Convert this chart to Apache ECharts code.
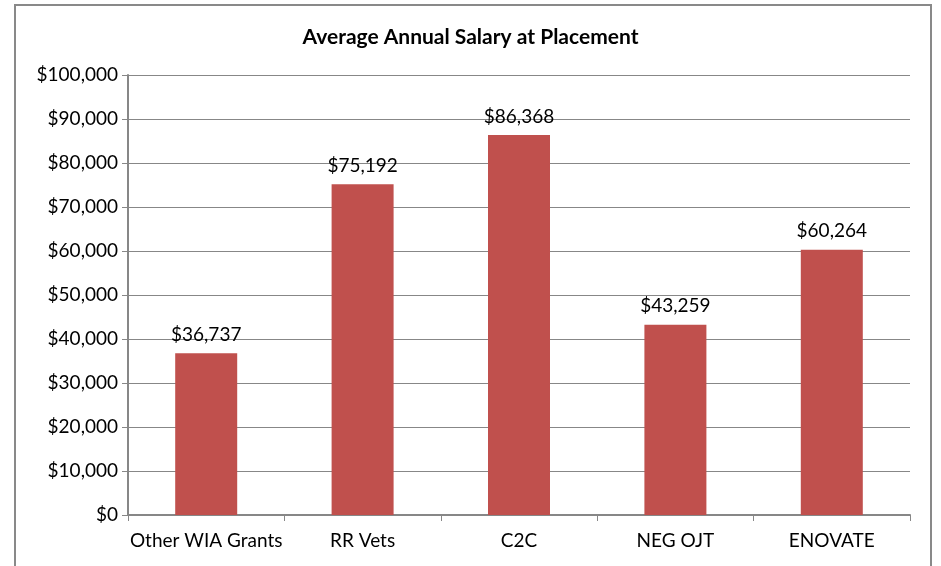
<!DOCTYPE html>
<html>
<head>
<meta charset="utf-8">
<script src="https://cdn.jsdelivr.net/npm/echarts@6/dist/echarts.min.js"></script>
<style>
  html, body { margin: 0; padding: 0; background: #fff; }
  #frame { position: absolute; left: 14px; top: 4px; width: 918px; height: 580px; border: 2px solid #898989; box-sizing: border-box; }
  #chart { width: 941px; height: 566px; }
</style>
</head>
<body>
<div id="frame"></div>
<div id="chart"></div>
<script>
const categories = ['Other WIA Grants', 'RR Vets', 'C2C', 'NEG OJT', 'ENOVATE']
const salaries = [36737, 75192, 86368, 43259, 60264]
const yTicks = { min: 0, max: 100000, step: 10000 }

const money = v => '$' + v.toLocaleString('en-US')

const chart = echarts.init(document.getElementById('chart'))
const option = {
  animation: false,
  textStyle: { fontFamily: 'Lato' },
  title: {
    text: 'Average Annual Salary at Placement',
    left: 'center',
    top: 22,
    textStyle: { fontSize: 21, fontWeight: 'bold', color: '#000', fontFamily: 'Lato' }
  },
  grid: { left: 128, right: 31, top: 75, bottom: 51 },
  xAxis: {
    type: 'category',
    data: categories,
    axisLine: { lineStyle: { color: '#878787', width: 2 } },
    axisTick: { show: true, interval: 0, length: 6, lineStyle: { color: '#878787' } },
    axisLabel: { color: '#000', fontSize: 19, margin: 16, interval: 0 }
  },
  yAxis: {
    type: 'value',
    min: yTicks.min,
    max: yTicks.max,
    interval: yTicks.step,
    axisLine: { show: true, lineStyle: { color: '#878787', width: 2 } },
    axisTick: { show: true, length: 6, lineStyle: { color: '#878787' } },
    splitLine: { lineStyle: { color: '#878787', width: 1 } },
    axisLabel: { color: '#000', fontSize: 19, margin: 10, formatter: money }
  },
  series: [{
    type: 'bar',
    data: salaries,
    barWidth: 62,
    itemStyle: { color: '#C0504D' },
    label: {
      show: true,
      position: 'top',
      distance: 9,
      color: '#000',
      fontSize: 19,
      formatter: p => money(p.value)
    }
  }]
}
chart.setOption(option)
</script>
</body>
</html>
